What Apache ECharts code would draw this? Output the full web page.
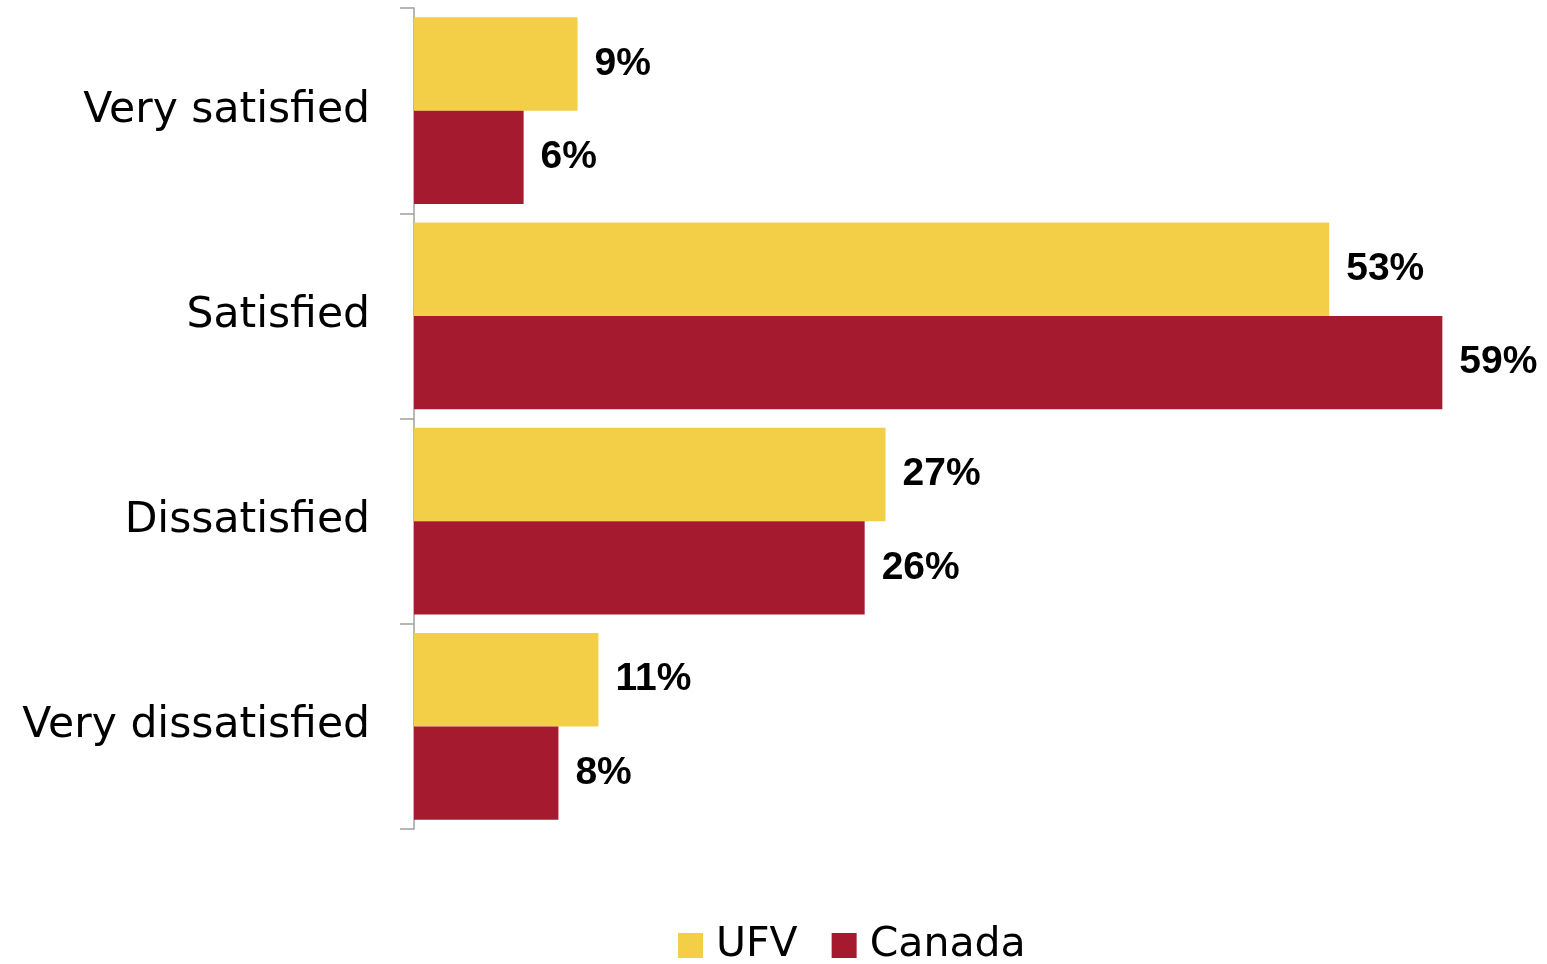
<!DOCTYPE html>
<html>
<head>
<meta charset="utf-8">
<script src="https://cdn.jsdelivr.net/npm/echarts@6/dist/echarts.min.js"></script>
<style>
  html, body { margin: 0; padding: 0; background: #fff; }
  #chart { width: 1547px; height: 964px; }
</style>
</head>
<body>
<div id="chart"></div>
<script>
const categories = ['Very satisfied', 'Satisfied', 'Dissatisfied', 'Very dissatisfied'];
const ufv = [9.4, 52.6, 27.1, 10.6];
const canada = [6.3, 59.1, 25.9, 8.3];

const font = 'DejaVu Sans';

const chart = echarts.init(document.getElementById('chart'), null, {renderer: 'canvas'});

const labelStyle = {
    show: true,
    position: 'right',
    distance: 17,
    color: '#000',
    fontFamily: 'Liberation Sans',
    fontWeight: 'bold',
    fontSize: 39,
    formatter: p => Math.round(p.value) + '%',
};

chart.setOption({
    animation: false,
    grid: {left: 414, top: 8, bottom: 135, right: 89},
    legend: {
        left: 673,
        top: 920,
        itemWidth: 25,
        itemHeight: 25,
        itemGap: 34,
        icon: 'rect',
        textStyle: {fontFamily: font, fontSize: 41, color: '#000', padding: [0, 0, 0, 8]},
        data: ['UFV', 'Canada'],
    },
    xAxis: {
        type: 'value',
        min: 0,
        max: 60,
        show: false,
    },
    yAxis: {
        type: 'category',
        inverse: true,
        data: categories,
        axisLine: {show: true, lineStyle: {color: '#a0a0a0', width: 1.5}},
        axisTick: {show: true, length: 14, lineStyle: {color: '#a0a0a0', width: 1.5}},
        axisLabel: {margin: 44, color: '#000', fontFamily: font, fontSize: 42.5},
    },
    series: [
        {
            name: 'UFV',
            type: 'bar',
            data: ufv,
            barGap: '0%',
            barCategoryGap: '9%',
            itemStyle: {color: '#f2cf47'},
            label: labelStyle,
        },
        {
            name: 'Canada',
            type: 'bar',
            data: canada,
            itemStyle: {color: '#a61a30'},
            label: labelStyle,
        },
    ],
});
</script>
</body>
</html>
